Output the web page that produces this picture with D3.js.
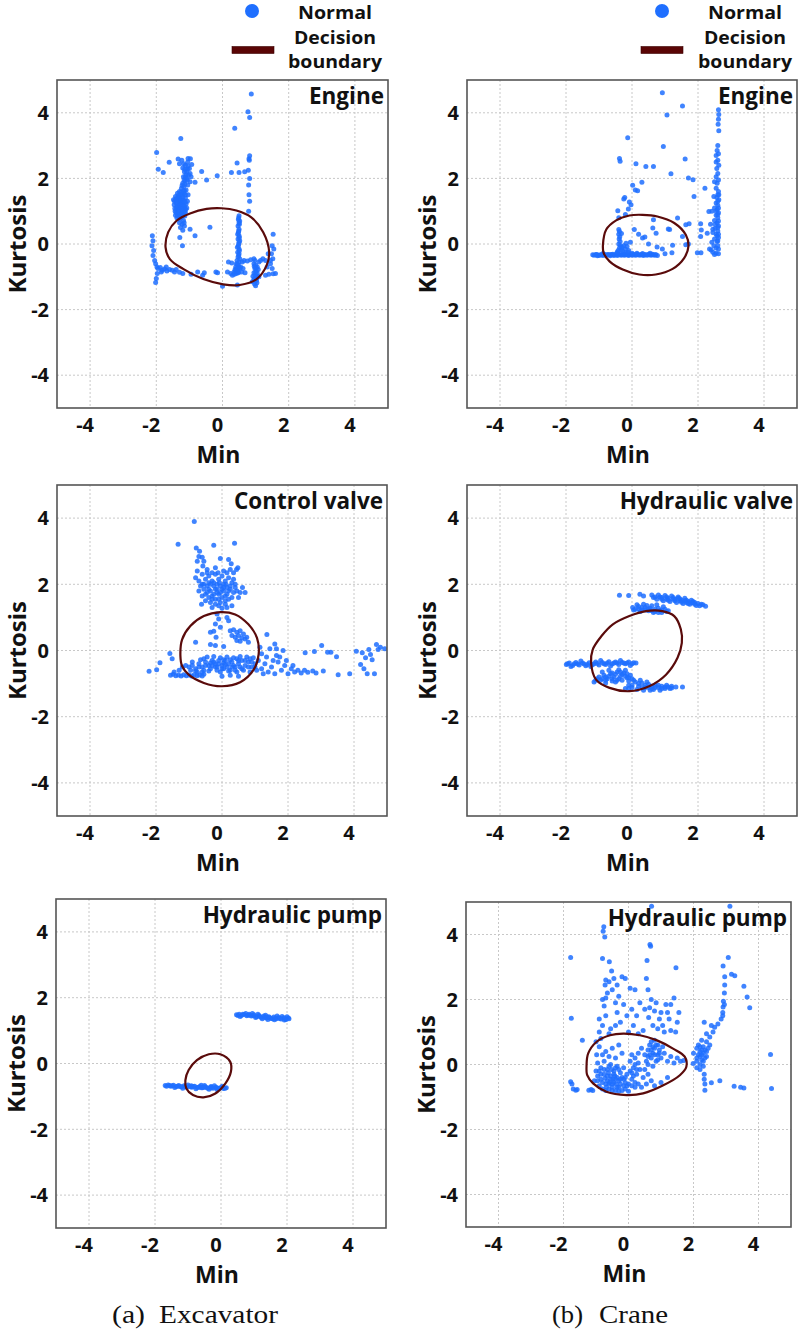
<!DOCTYPE html>
<html><head><meta charset="utf-8">
<script src="https://cdn.jsdelivr.net/npm/d3@7"></script>
<style>
html,body{margin:0;padding:0;background:#fff;}
svg{display:block;}
</style></head>
<body>
<svg id="chart" width="800" height="1331"></svg>
<script>
// ---------------- DATA ----------------
const tickValues = [-4, -2, 0, 2, 4];
const panelTitles = ["Engine", "Engine", "Control valve", "Hydraulic valve", "Hydraulic pump", "Hydraulic pump"];
const xLabel = "Min";
const yLabel = "Kurtosis";
const legendLabels = ["Normal", "Decision", "boundary"];
const captions = [["(a)", "Excavator"], ["(b)", "Crane"]];

// Excavator – Engine
const exEngine = [
[-1.42,1.45],[-1.35,1.38],[-1.28,1.42],[-1.2,1.35],[-1.12,1.4],[-1.4,1.25],[-1.32,1.2],[-1.25,1.28],[-1.18,1.18],[-1.1,1.22],[-1.44,1.08],[-1.36,1.05],[-1.29,1.1],[-1.22,1.02],[-1.14,1.08],[-1.4,0.95],[-1.33,0.9],[-1.26,0.95],[-1.19,0.88],[-1.12,0.95],[-1.38,1.15],[-1.3,1.32],[-1.22,1.5],[-1.16,1.55],[-1.3,1.6],[-1.24,1.7],[-1.17,1.75],[-1.1,1.65],[-1.05,1.8],[-1.2,1.85],[-1.13,1.92],[-1.08,2.0],[-1.18,2.05],[-1.1,2.12],[-1.02,2.1],[-1.15,2.2],[-1.06,2.28],[-1.2,2.32],[-1.12,2.4],[-1.0,2.3],[-0.95,2.05],[-0.98,1.9],[-1.25,0.8],[-1.18,0.72],[-1.3,0.75],[-1.22,0.6],[-1.15,0.55],[-1.27,0.5],[-1.2,0.42],[-1.3,0.65],[-1.38,0.8],[-1.46,1.2],[-1.48,1.35],[-1.34,1.48],[-1.06,1.3],[-1.04,1.5],[-1.08,1.1],[-1.16,0.65],[-1.23,2.55],[-1.3,2.45],[-1.05,2.5],[-0.97,2.6],[-1.15,1.62],[-1.25,1.58],[-1.35,1.0],[-1.15,0.98],
[-1.45,1.3],[-1.41,1.38],[-1.37,1.3],[-1.33,1.42],[-1.29,1.25],[-1.25,1.35],[-1.21,1.25],[-1.17,1.32],[-1.13,1.28],[-1.43,1.0],[-1.39,1.1],[-1.35,1.15],[-1.31,1.02],[-1.27,1.18],[-1.23,1.12],[-1.19,1.08],[-1.15,1.15],[-1.11,1.05],[-1.42,0.88],[-1.36,0.85],[-1.28,0.85],[-1.2,0.95],[-1.14,0.85],[-1.24,0.9],[-1.36,1.55],[-1.28,1.5],[-1.2,1.45],[-1.12,1.5],[-1.18,1.62],[-1.22,1.78],[-1.14,1.82],[-1.16,1.95],[-1.12,2.05],[-1.06,1.95],[-1.08,2.2],[-1.14,2.28],[-1.04,2.38],[-1.17,2.45],
[-1.99,2.79],[-1.94,2.28],[-1.79,2.18],[-1.61,2.49],[-1.34,2.59],[-1.04,2.61],[-0.93,2.42],[-0.83,1.88],[-0.98,2.15],[-1.26,3.22],[-1.29,0.2],[-1.21,-0.05],[-0.83,0.25],[-0.98,0.45],[-0.38,0.51],[-0.63,2.21],[-0.48,1.95],[-0.16,2.08],
[0.87,4.57],[0.77,4.03],[0.82,3.86],[0.37,3.53],[0.82,2.69],[0.8,2.6],[0.78,2.25],[0.82,2.0],[0.79,1.8],[0.8,1.5],[0.82,1.3],[0.79,1.0],[0.44,2.47],[0.27,2.18],[0.5,2.18],[0.67,2.2],[0.81,2.55],
[-2.12,0.25],[-2.1,0.1],[-2.13,-0.05],[-2.08,-0.2],[-2.1,-0.35],[-2.05,-0.5],[-2.02,-0.6],[-1.98,-0.7],[-2.0,-1.05],[-2.02,-1.17],[-1.97,-0.9],
[-1.95,-0.75],[-1.88,-0.72],[-1.82,-0.8],[-1.75,-0.76],[-1.68,-0.82],[-1.6,-0.78],[-1.52,-0.8],[-1.45,-0.85],[-1.4,-0.78],[-1.85,-0.85],[-1.7,-0.7],[-1.3,-0.86],[-1.2,-0.9],[-0.95,-0.92],[-0.75,-0.85],[-0.6,-0.95],[-0.55,-0.88],[-0.2,-0.85],[-0.15,-0.88],[0.15,-0.85],[0.25,-0.9],[0.0,-1.29],[0.45,-1.25],
[0.5,0.86],[0.48,0.75],[0.5,0.65],[0.47,0.55],[0.5,0.45],[0.48,0.35],[0.5,0.25],[0.47,0.15],[0.5,0.05],[0.48,-0.05],[0.5,-0.15],[0.46,-0.25],[0.5,-0.3],[0.47,-0.4],[0.52,-0.45],[0.44,-0.5],[0.5,-0.55],[0.42,-0.6],[0.48,-0.65],[0.4,-0.7],[0.55,-0.7],[0.38,-0.78],[0.45,-0.8],[0.52,-0.75],[0.35,-0.85],[0.42,-0.9],[0.3,-0.95],[0.48,-0.88],[0.52,0.7],[0.46,0.3],[0.52,0.1],[0.45,-0.1],[0.6,-0.55],[0.62,-0.75],[0.58,-0.85],[0.68,-0.88],[0.28,-0.58],[0.18,-0.55],
[0.49,0.8],[0.51,0.6],[0.49,0.4],[0.51,0.2],[0.49,0.0],[0.51,-0.2],[0.49,-0.35],[0.45,-0.62],[0.5,-0.72],[0.43,-0.75],[0.47,-0.85],[0.4,-0.82],[0.36,-0.92],
[0.95,-0.6],[1.0,-0.65],[1.05,-0.7],[0.98,-0.75],[1.02,-0.82],[0.95,-0.88],[1.05,-0.9],[0.98,-0.95],[1.02,-1.02],[0.95,-1.08],[1.0,-1.12],[1.04,-1.18],[0.97,-1.22],[1.0,-1.27],[0.92,-0.98],[1.08,-0.78],[1.1,-1.0],[0.9,-1.15],[0.98,-0.5],[1.1,-0.55],
[1.0,-0.85],[0.97,-1.05],[1.03,-1.1],[1.0,-0.72],[0.96,-0.68],[1.04,-0.98],
[0.65,-0.5],[0.75,-0.52],[0.85,-0.48],[0.95,-0.45],[1.15,-0.5],[1.22,-0.45],[1.3,-0.5],
[1.53,0.3],[1.5,-0.05],[1.55,-0.15],[1.48,-0.3],[1.52,-0.45],[1.45,-0.6],[1.5,-0.75],[1.53,-0.91],[1.4,-0.92],[1.3,-0.95],[1.38,-0.3],[1.6,-0.9],[1.45,-0.5],[1.35,-0.7]
];
const exEngineBoundary = [[-1.72,-0.10],[-1.64,0.36],[-1.39,0.71],[-0.98,0.93],[-0.48,1.07],[-0.03,1.09],[0.42,1.02],[0.87,0.81],[1.23,0.36],[1.41,-0.25],[1.33,-0.66],[1.03,-1.07],[0.52,-1.25],[0.02,-1.23],[-0.58,-1.07],[-1.19,-0.76],[-1.59,-0.46]];

// Crane – Engine
const crEngine = [
[0.92,4.61],[1.53,4.21],[1.06,3.93],[-0.13,3.24],[0.95,2.97],[-0.38,2.61],[-0.36,2.52],[0.12,2.45],[0.42,2.36],[0.65,2.36],[1.61,2.59],[1.18,2.14],[1.71,2.01],[1.85,1.96],[1.88,1.45],[0.3,1.88],[0.02,1.79],[0.1,1.65],[0.17,1.62],[-0.08,1.28],[-0.03,1.2],[-0.25,1.37],[-0.22,1.42],[-0.11,1.07],[-0.43,1.01],[-0.4,0.8],[0.65,0.74],[1.38,0.79],[1.63,0.59],[1.73,0.62],[0.07,0.44],[0.32,0.18],[0.39,0.21],[0.63,0.49],[0.73,0.33],[1.1,0.46],[1.14,0.44],[1.53,0.23],[1.23,-0.04],[0.92,-0.15],[0.76,-0.09],[1.21,-0.27],[1.0,-0.3],[1.63,-0.02],[1.71,0.0],[1.98,-0.27],[2.09,-0.27],[2.08,0.23],[2.1,0.43],[2.08,0.62],[2.21,1.7],[2.33,0.99],[2.28,0.33],[0.2,0.3],[-0.2,0.9],[0.5,0.0],
[2.62,4.09],[2.63,3.95],[2.62,3.8],[2.61,3.65],[2.63,3.45],[2.6,3.0],[2.58,2.85],[2.62,2.75],[2.55,2.7],[2.6,2.55],[2.63,2.4],[2.57,2.3],[2.6,2.15],[2.55,2.05],[2.62,1.95],[2.58,1.85],[2.55,1.7],[2.62,1.6],[2.6,1.5],[2.57,1.42],[2.63,1.35],[2.55,1.25],[2.6,1.18],[2.5,1.1],[2.58,1.05],[2.62,0.95],[2.55,0.88],[2.6,0.8],[2.5,0.72],[2.58,0.65],[2.62,0.55],[2.52,0.48],[2.6,0.4],[2.45,0.35],[2.55,0.3],[2.62,0.2],[2.5,0.15],[2.58,0.08],[2.42,0.05],[2.48,-0.05],[2.55,-0.12],[2.62,-0.15],[2.4,-0.18],[2.35,-0.15],[2.45,-0.25],[2.55,-0.28],[2.62,-0.3],[2.5,-0.32],[2.38,0.6],[2.42,1.0],[2.48,1.45],[2.45,0.45],[2.5,1.9],[2.55,2.5],
[2.6,1.3],[2.62,1.1],[2.6,0.9],[2.62,0.7],[2.6,0.5],[2.62,0.3],[2.6,0.1],[2.6,-0.05],[2.63,1.5],[2.55,1.0],[2.52,0.6],[2.58,0.25],
[-1.19,-0.33],[-1.1,-0.32],[-1.0,-0.35],[-0.92,-0.33],[-0.85,-0.31],[-0.78,-0.34],[-0.7,-0.33],[-0.62,-0.32],[-0.55,-0.35],[-0.48,-0.33],[-0.4,-0.31],[-0.32,-0.34],[-0.25,-0.33],[-0.18,-0.32],[-0.1,-0.35],[-0.02,-0.33],[0.05,-0.31],[0.12,-0.34],[0.2,-0.33],[0.28,-0.32],[0.35,-0.35],[0.42,-0.33],[0.5,-0.31],[0.58,-0.34],[0.65,-0.33],[0.72,-0.32],[0.77,-0.35],[-1.05,-0.36],[-0.88,-0.29],[-0.66,-0.36],[-0.45,-0.28],[-0.2,-0.27],[0.0,-0.28],[0.15,-0.28],[0.32,-0.29],[0.55,-0.28],
[-1.15,-0.34],[-1.06,-0.32],[-0.96,-0.33],[-0.88,-0.35],[-0.82,-0.33],[-0.74,-0.32],[-0.66,-0.33],[-0.58,-0.31],[-0.52,-0.33],[-0.44,-0.35],[-0.36,-0.33],[-0.28,-0.31],[-0.22,-0.34],[-0.14,-0.33],[-0.06,-0.32],[0.02,-0.34],[0.09,-0.33],[0.16,-0.31],[0.24,-0.34],[0.31,-0.33],[0.38,-0.32],[0.46,-0.34],[0.54,-0.33],[0.62,-0.31],[0.69,-0.34],
[-0.4,0.44],[-0.38,0.38],[-0.4,0.3],[-0.37,0.22],[-0.39,0.15],[-0.36,0.08],[-0.4,0.0],[-0.35,-0.05],[-0.38,-0.12],[-0.33,-0.18],[-0.3,-0.1],[-0.25,-0.05],[-0.2,-0.15],[-0.28,-0.22],[-0.15,-0.08],[-0.1,-0.2],[-0.42,-0.2],[-0.45,-0.25],[-0.05,0.05],[-0.18,0.02],[-0.32,0.32],[-0.12,-0.25]
];
const crEngineBoundary = [[-0.88,-0.02],[-0.78,0.44],[-0.48,0.72],[-0.08,0.87],[0.32,0.89],[0.77,0.84],[1.28,0.64],[1.63,0.28],[1.71,-0.07],[1.58,-0.43],[1.23,-0.76],[0.72,-0.93],[0.22,-0.93],[-0.28,-0.78],[-0.68,-0.53],[-0.86,-0.27]];

// Excavator – Control valve
const exValve = [
[-0.84,3.9],[-1.33,3.21],[-0.25,3.18],[0.38,3.24],[-0.78,3.1],[-0.68,3.0],[-0.7,2.84],[-0.6,2.82],[-0.55,2.7],[-0.75,2.7],[0.2,2.75],[0.28,2.62],[0.48,2.5],[0.44,2.45],[-0.05,2.78],[0.35,2.35],
[-0.8,2.2],[-0.7,2.1],[-0.6,2.3],[-0.5,2.15],[-0.4,2.25],[-0.3,2.1],[-0.2,2.3],[-0.1,2.15],[0.0,2.25],[0.1,2.1],[0.2,2.2],[0.3,2.05],[0.4,2.0],[-0.65,1.95],[-0.55,1.85],[-0.45,1.95],[-0.35,1.8],[-0.25,1.95],[-0.15,1.85],[-0.05,1.95],[0.05,1.8],[0.15,1.9],[0.25,1.85],[0.35,1.75],[0.45,1.8],[0.55,1.75],[-0.6,1.65],[-0.5,1.7],[-0.4,1.6],[-0.3,1.65],[-0.2,1.55],[-0.1,1.7],[0.0,1.6],[0.1,1.65],[0.2,1.55],[0.3,1.6],[-0.5,1.5],[-0.35,1.45],[-0.2,1.4],[-0.05,1.45],[0.1,1.4],[-0.25,2.05],[-0.08,2.05],[0.05,2.0],[-0.4,2.05],[-0.15,1.75],[-0.3,1.3],[0.0,1.28],[0.15,1.3],[-0.7,1.8],[-0.75,2.4],[-0.45,2.45],[-0.2,2.5],[0.05,2.4],[0.15,2.35],[0.62,1.9],[0.7,1.75],[0.5,1.6],[-0.62,1.4],[0.3,1.35],[-0.12,2.35],[0.25,2.45],[-0.58,2.55],
[-0.55,2.0],[-0.45,1.75],[-0.35,2.0],[-0.25,1.7],[-0.15,2.0],[-0.05,1.75],[0.05,1.9],[0.15,1.7],[0.25,1.95],[-0.4,1.85],[-0.2,1.85],[0.0,1.85],[0.2,1.8],[-0.3,1.55],[-0.1,1.55],[0.1,1.5],[-0.6,2.0],[0.4,1.9],[0.35,2.15],[-0.45,2.35],[-0.3,2.35],[0.12,2.0],[-0.1,1.35],
[-0.15,1.1],[-0.1,0.95],[-0.2,0.8],[-0.05,0.7],[-0.35,0.55],[-0.25,0.58],[-0.18,0.4],[-0.8,0.25],[-0.35,0.18],[-0.2,0.15],[0.05,0.12],[0.15,1.0],[0.2,0.9],
[0.25,0.6],[0.35,0.63],[0.45,0.55],[0.55,0.6],[0.3,0.45],[0.4,0.4],[0.5,0.45],[0.6,0.38],[0.7,0.35],[0.45,0.3],[0.55,0.28],[0.65,0.5],[0.75,0.4],[0.8,0.25],
[-1.0,-0.5],[-0.9,-0.45],[-0.8,-0.55],[-0.7,-0.4],[-0.6,-0.5],[-0.5,-0.35],[-0.4,-0.45],[-0.3,-0.3],[-0.2,-0.4],[-0.1,-0.3],[0.0,-0.45],[0.1,-0.3],[0.2,-0.4],[0.3,-0.35],[0.4,-0.5],[0.5,-0.4],[0.6,-0.3],[0.7,-0.45],[0.8,-0.35],[0.9,-0.5],[1.0,-0.4],[1.1,-0.3],
[-0.95,-0.6],[-0.75,-0.65],[-0.55,-0.6],[-0.35,-0.55],[-0.15,-0.6],[0.05,-0.55],[0.25,-0.6],[0.45,-0.65],[0.65,-0.6],[0.85,-0.65],[1.05,-0.6],
[-0.45,-0.2],[-0.25,-0.18],[-0.05,-0.22],[0.15,-0.2],[0.35,-0.22],[0.55,-0.18],[0.75,-0.2],[0.95,-0.22],
[-0.65,-0.28],[-0.15,-0.5],[0.35,-0.45],[0.15,-0.5],[-0.35,-0.38],[0.05,-0.38],[0.55,-0.5],[-0.05,-0.65],[0.25,-0.75],[0.5,-0.78],[0.0,-0.78],
[-0.9,-0.35],[-0.7,-0.5],[-0.5,-0.45],[-0.3,-0.45],[-0.1,-0.4],[0.1,-0.42],[0.3,-0.5],[0.5,-0.3],[0.7,-0.3],[0.9,-0.35],[-0.8,-0.62],[-0.6,-0.65],[-0.4,-0.62],[-0.2,-0.5],[0.0,-0.55],[0.2,-0.62],[0.4,-0.6],[0.6,-0.55],[0.8,-0.5],[1.0,-0.5],[-0.25,-0.35],[0.25,-0.28],[0.05,-0.28],[-0.55,-0.25],[0.45,-0.25],[0.85,-0.25],
[-1.56,-0.75],[-1.48,-0.72],[-1.4,-0.76],[-1.32,-0.74],[-1.24,-0.77],[-1.16,-0.73],[-1.08,-0.76],[-1.0,-0.74],[-0.92,-0.77],[-0.84,-0.73],[-0.76,-0.76],[-0.68,-0.74],[-0.6,-0.77],[-0.55,-0.72],[-1.45,-0.65],[-1.3,-0.6],[-1.2,-0.5],[-1.1,-0.45],
[1.2,-0.55],[1.3,-0.4],[1.4,-0.65],[1.5,-0.5],[1.6,-0.7],[1.7,-0.35],[1.8,-0.6],[1.9,-0.45],[2.0,-0.7],[2.1,-0.55],[2.2,-0.65],[2.3,-0.6],[2.4,-0.68],[2.5,-0.6],[2.6,-0.66],[2.75,-0.62],[2.85,-0.68],[1.25,-0.7],[1.55,-0.3],[1.65,-0.15],[1.75,-0.2],[1.85,0.0],[1.45,0.05],[1.36,0.48],[1.6,0.2],[1.65,0.05],[1.2,-0.1],[1.35,-0.2],[1.95,-0.3],[2.15,-0.45],[1.15,0.1],
[2.52,-0.07],[2.8,-0.03],[3.02,0.15],[3.2,-0.05],[3.3,-0.05],[3.07,-0.62],[3.47,-0.19],[3.52,-0.73],[3.87,-0.7],[4.07,-0.02],[4.25,-0.07],[4.35,-0.22],[4.2,-0.42],[4.3,-0.55],[4.45,0.03],[4.5,-0.12],[4.68,0.18],[4.73,0.03],[4.93,0.05],[4.4,-0.7],[4.62,-0.7],[4.55,-0.28],[4.8,0.1],
[-2.21,-0.63],[-1.98,-0.58],[-1.88,-0.37],[-1.58,-0.09],[-1.51,-0.25]
];
const exValveBoundary = [[-1.26,-0.17],[-1.21,0.33],[-0.96,0.74],[-0.55,1.04],[-0.05,1.16],[0.40,1.09],[0.80,0.79],[1.06,0.38],[1.11,-0.12],[0.96,-0.58],[0.55,-0.96],[0.00,-1.08],[-0.55,-0.98],[-1.01,-0.73],[-1.21,-0.47]];

// Crane – Hydraulic valve
const crValve = [
[-0.38,1.67],[-0.1,1.66],[0.24,1.7],[0.35,1.65],
[0.6,1.68],[0.7,1.62],[0.8,1.68],[0.9,1.6],[1.0,1.66],[1.1,1.58],[1.2,1.65],[1.3,1.55],[1.4,1.62],[1.5,1.52],[1.6,1.58],[1.7,1.48],[1.8,1.52],[1.9,1.45],[2.0,1.42],[2.1,1.4],[2.23,1.34],[0.75,1.55],[0.95,1.5],[1.15,1.48],[1.35,1.45],[1.55,1.42],[1.75,1.4],[1.95,1.36],[1.25,1.6],[1.45,1.56],[1.65,1.52],[1.85,1.44],[1.05,1.55],[2.05,1.35],
[0.65,1.6],[0.85,1.62],[1.05,1.62],[1.25,1.55],[1.45,1.5],[1.65,1.45],[1.85,1.48],[2.15,1.38],[0.9,1.55],[1.1,1.52],[1.3,1.5],[1.5,1.46],[1.7,1.42],[1.9,1.4],[1.4,1.58],[1.6,1.5],[1.8,1.45],
[0.02,1.3],[0.1,1.25],[0.2,1.33],[0.3,1.22],[0.4,1.3],[0.5,1.2],[0.6,1.35],[0.7,1.18],[0.8,1.28],[0.9,1.15],[1.0,1.25],[1.1,1.2],[0.15,1.38],[0.35,1.4],[0.55,1.28],[0.75,1.38],[0.95,1.32],[0.65,1.15],[0.85,1.2],[0.45,1.36],[0.25,1.18],
[0.05,1.22],[0.3,1.3],[0.5,1.25],[0.7,1.25],[0.9,1.22],[1.05,1.18],[0.6,1.2],[0.8,1.15],[0.4,1.22],[0.2,1.25],
[-1.99,-0.42],[-1.9,-0.38],[-1.8,-0.45],[-1.7,-0.36],[-1.6,-0.44],[-1.5,-0.38],[-1.4,-0.46],[-1.3,-0.37],[-1.2,-0.43],[-1.1,-0.35],[-1.0,-0.44],[-0.9,-0.36],[-0.8,-0.42],[-0.7,-0.34],[-0.6,-0.41],[-0.5,-0.35],[-0.4,-0.42],[-0.3,-0.36],[-0.2,-0.4],[-0.1,-0.35],[0.0,-0.4],[0.12,-0.38],[-1.85,-0.48],[-1.55,-0.32],[-1.25,-0.48],[-0.95,-0.3],[-0.65,-0.47],[-0.35,-0.3],[-0.05,-0.45],
[-1.95,-0.4],[-1.75,-0.4],[-1.65,-0.41],[-1.45,-0.41],[-1.35,-0.42],[-1.15,-0.4],[-1.05,-0.39],[-0.85,-0.4],[-0.75,-0.38],[-0.55,-0.38],[-0.45,-0.38],[-0.25,-0.38],[-0.15,-0.38],[0.05,-0.37],
[-1.15,-0.95],[-1.05,-0.85],[-0.95,-0.9],[-0.85,-0.75],[-0.75,-0.85],[-0.65,-0.7],[-0.55,-0.8],[-0.45,-0.65],[-0.35,-0.78],[-0.25,-0.68],[-0.15,-0.82],[-0.05,-0.75],[-0.9,-0.65],[-0.7,-0.6],[-0.5,-0.95],[-0.3,-0.9],[-0.1,-0.92],[-0.6,-0.92],[-0.8,-0.98],[-0.4,-0.58],[-0.2,-0.6],[0.0,-0.85],
[-1.1,-0.9],[-1.0,-0.8],[-0.9,-0.85],[-0.8,-0.8],[-0.7,-0.78],[-0.6,-0.85],[-0.5,-0.72],[-0.4,-0.85],[-0.3,-0.72],[-0.2,-0.78],[-0.1,-0.82],[-0.6,-0.68],[-0.35,-0.65],[-0.8,-0.9],[-0.45,-0.9],[-0.15,-0.7],
[-0.2,-1.15],[-0.1,-1.05],[0.0,-1.12],[0.1,-0.95],[0.2,-1.08],[0.3,-0.98],[0.4,-1.12],[0.5,-1.02],[0.6,-1.15],[0.7,-1.05],[0.8,-1.12],[0.9,-1.08],[1.0,-1.15],[1.1,-1.1],[1.2,-1.13],[1.33,-1.1],[1.53,-1.1],[0.25,-0.9],[0.45,-0.95],[0.65,-1.18],[0.85,-1.2],[0.15,-1.18],[0.05,-0.9],[0.35,-1.2],[1.05,-1.05],[0.55,-1.2],
[0.0,-1.05],[0.2,-1.0],[0.4,-1.05],[0.6,-1.08],[0.8,-1.05],[1.0,-1.1],[1.2,-1.08],[0.3,-1.12],[0.5,-1.12],[0.7,-1.12],[0.9,-1.15],[1.15,-1.15],[-0.1,-1.15]
];
const crValveBoundary = [[-1.24,-0.37],[-1.19,0.03],[-0.93,0.43],[-0.58,0.79],[-0.08,1.04],[0.42,1.19],[0.92,1.19],[1.28,1.04],[1.48,0.64],[1.51,0.23],[1.38,-0.22],[1.03,-0.73],[0.52,-1.08],[-0.08,-1.23],[-0.68,-1.13],[-1.09,-0.88]];

// Excavator – Hydraulic pump
const exPump = [
[0.47,1.48],[0.55,1.5],[0.62,1.46],[0.7,1.49],[0.78,1.45],[0.85,1.5],[0.92,1.44],[1.0,1.48],[1.08,1.42],[1.15,1.46],[1.22,1.4],[1.3,1.44],[1.38,1.38],[1.45,1.42],[1.52,1.37],[1.6,1.41],[1.68,1.36],[1.75,1.4],[1.82,1.35],[1.9,1.39],[1.97,1.34],[2.04,1.38],[0.58,1.43],[0.75,1.52],[0.95,1.52],[1.12,1.5],[1.25,1.36],[1.42,1.34],[1.62,1.33],[1.85,1.43],[2.0,1.42],[1.05,1.4],[1.35,1.47],[1.7,1.44],[1.92,1.32],
[0.51,1.46],[0.66,1.5],[0.82,1.47],[0.98,1.45],[1.18,1.43],[1.32,1.4],[1.48,1.39],[1.65,1.38],[1.78,1.37],[1.95,1.36],[2.06,1.36],[0.88,1.47],[1.4,1.41],[1.56,1.36],
[-1.69,-0.67],[-1.6,-0.65],[-1.52,-0.69],[-1.44,-0.66],[-1.36,-0.7],[-1.28,-0.67],[-1.2,-0.71],[-1.12,-0.68],[-1.04,-0.72],[-0.96,-0.69],[-0.88,-0.72],[-0.8,-0.69],[-0.72,-0.73],[-0.64,-0.7],[-0.56,-0.74],[-0.48,-0.71],[-0.4,-0.75],[-0.32,-0.72],[-0.24,-0.75],[-0.16,-0.72],[-0.08,-0.76],[0.0,-0.73],[0.08,-0.76],[0.16,-0.74],[-1.4,-0.73],[-1.0,-0.65],[-0.6,-0.66],[-0.2,-0.68],[-0.76,-0.77],[-0.36,-0.78],[0.04,-0.69],[-1.16,-0.75],[-0.5,-0.67],[-0.12,-0.79],
[-1.65,-0.69],[-1.56,-0.67],[-1.48,-0.68],[-1.32,-0.69],[-1.24,-0.7],[-1.08,-0.7],[-0.92,-0.71],[-0.84,-0.7],[-0.68,-0.72],[-0.52,-0.72],[-0.44,-0.73],[-0.28,-0.74],[-0.12,-0.74],[-0.04,-0.75],[0.12,-0.75],[-0.6,-0.74],[-0.3,-0.7],[-0.9,-0.68]
];
const exPumpBoundary = [[-1.08,-0.51],[-0.98,-0.2],[-0.73,0.1],[-0.37,0.28],[-0.02,0.28],[0.28,0.05],[0.30,-0.25],[0.13,-0.61],[-0.17,-0.91],[-0.53,-1.03],[-0.85,-0.96],[-1.05,-0.76]];

// Crane – Hydraulic pump
const crPump = [
[0.71,4.87],[3.12,4.87],[-0.76,4.24],[-0.78,4.1],[-0.73,3.92],[0.66,3.69],[0.68,3.64],[-1.78,3.29],[-0.8,3.26],[-0.59,3.16],[0.57,3.2],[1.46,2.98],[-0.52,2.88],[3.07,3.29],[2.91,3.03],[3.17,2.78],[3.27,2.73],[3.55,2.41],[3.65,2.08],[3.73,1.75],[-1.76,1.42],[-1.42,0.75],[4.37,0.31],[4.4,-0.74],[3.25,-0.67],[3.45,-0.7],[3.55,-0.72],[2.81,-0.5],[2.55,-0.56],[-1.78,-0.53],[-1.74,-0.6],[-1.7,-0.75],[-1.62,-0.79],[-1.58,-0.77],[-1.22,-0.79],[-1.15,-0.77],[-1.1,-0.8],
[1.99,0.03],[2.1,0.2],[2.2,0.4],[2.3,0.55],[2.4,0.7],[2.5,0.85],[2.6,1.0],[2.65,1.15],[2.75,1.25],[2.85,1.4],[2.9,1.6],[2.91,1.77],[2.92,1.95],[2.95,2.2],[2.96,2.45],[2.96,2.7],[2.9,1.5],[2.2,0.0],[2.3,0.1],[2.25,0.3],[2.35,0.45],[2.15,0.6],[2.25,0.75],[2.4,0.25],[2.3,-0.05],[2.1,-0.1],[2.2,-0.15],[2.33,-0.3],[2.33,-0.45],[2.35,-0.6],[2.35,-0.79],[2.33,1.3],[2.45,0.5],[2.5,0.6],[2.0,0.35],[2.1,0.5],[2.25,0.15],[2.4,0.95],[2.55,1.2],[2.95,1.85],
[2.15,0.3],[2.3,0.35],[2.2,0.55],[2.35,0.2],[2.25,0.45],[2.4,0.4],[2.1,0.1],[2.2,0.25],
[-0.95,0.05],[-0.85,-0.1],[-0.75,0.1],[-0.65,-0.15],[-0.55,0.0],[-0.45,-0.2],[-0.35,-0.05],[-0.25,-0.25],[-0.15,-0.1],[-0.05,-0.3],
[-0.95,-0.35],[-0.85,-0.45],[-0.75,-0.3],[-0.65,-0.5],[-0.55,-0.35],[-0.45,-0.55],[-0.35,-0.4],[-0.25,-0.6],[-0.15,-0.45],[-0.05,-0.65],
[-0.9,-0.65],[-0.8,-0.75],[-0.7,-0.6],[-0.6,-0.75],[-0.5,-0.7],[-0.4,-0.8],[-0.3,-0.7],[-0.2,-0.8],[-0.1,-0.75],[0.0,-0.82],
[-0.62,-0.25],[-0.52,-0.15],[-0.42,-0.35],[-0.72,-0.42],[-0.58,-0.55],[-0.48,-0.45],[-0.38,-0.6],[-0.68,-0.7],[-0.3,-0.15],[-0.2,-0.4],[-0.8,0.3],[-0.7,0.4],[-0.6,0.25],[-0.5,0.5],[-0.9,0.55],[-0.4,0.2],[-1.0,0.7],[-0.85,0.8],[-0.3,0.6],[-0.2,0.35],[-1.05,-0.5],[-1.0,-0.2],[-0.98,0.3],
[-0.9,-0.2],[-0.8,-0.55],[-0.6,-0.05],[-0.5,-0.6],[-0.4,-0.1],[-0.3,-0.5],[-0.1,-0.55],[0.0,-0.6],[-0.65,-0.35],[-0.55,-0.45],[-0.45,-0.3],[-0.35,-0.7],[-0.25,-0.45],[-0.15,-0.65],[-0.75,-0.15],[-0.85,-0.3],[-0.7,-0.8],[-0.5,-0.8],[-0.3,-0.82],[-0.1,-0.4],[-0.95,-0.5],[-0.6,-0.6],[-0.4,-0.45],[0.1,-0.65],[0.15,-0.35],[0.2,-0.7],
[0.05,-0.2],[0.15,-0.1],[0.25,-0.3],[0.35,-0.15],[0.45,-0.4],[0.1,-0.45],[0.2,-0.55],[0.3,-0.6],[0.4,-0.7],[0.55,-0.6],[0.05,0.1],[0.2,0.2],[0.3,0.05],[0.1,0.3],[0.6,-0.3],[0.7,-0.5],[0.8,-0.65],[1.0,-0.55],[1.2,-0.4],[0.5,-0.15],
[0.5,0.3],[0.6,0.45],[0.7,0.2],[0.8,0.5],[0.9,0.3],[0.65,0.6],[0.75,0.35],[0.85,0.1],[0.95,0.45],[0.55,0.1],[0.7,0.7],[0.8,0.75],[0.9,0.6],[1.0,0.2],[1.1,0.35],[1.2,0.1],[1.3,0.25],[1.4,0.05],[1.5,0.2],[1.6,0.1],[1.7,0.12],[0.6,0.0],[0.75,-0.05],[1.05,0.55],[0.4,0.5],[0.3,0.35],
[0.7,0.45],[0.8,0.3],[0.85,0.6],[0.65,0.3],[0.75,0.55],[0.9,0.15],[0.6,0.25],[0.95,0.35],[0.2,0.0],[0.25,-0.15],[0.1,-0.25],
[-0.9,1.0],[-0.8,1.2],[-0.7,1.5],[-0.75,1.8],[-0.8,2.0],[-0.7,2.05],[-0.65,2.2],[-0.6,2.55],[-0.7,2.6],[-0.5,2.3],[-0.45,2.65],[-0.4,1.9],[-0.35,1.6],[-0.3,2.1],[-0.25,1.3],[-0.2,2.7],[-0.1,2.65],[-0.15,1.85],[-0.05,1.5],[0.05,2.35],[0.1,1.7],[0.15,1.2],[0.2,2.3],[0.25,1.5],[0.35,1.9],[0.45,1.05],[0.5,1.7],[0.55,2.65],[0.6,2.3],[0.62,1.45],[0.7,2.0],[0.75,1.2],[0.8,1.65],[0.85,1.9],[0.9,1.1],[0.95,1.4],[1.0,1.6],[1.05,1.2],[1.15,1.85],[1.2,1.6],[1.25,1.4],[1.3,1.05],[1.3,1.85],[1.4,2.05],[1.5,1.3],[1.55,1.6],[-0.55,1.1],[-0.6,0.95],[-0.9,1.4],[0.0,1.0],[0.3,0.95],[-0.4,1.2],[0.65,1.75],[1.1,1.0],[1.45,1.0],[-0.72,2.45],[-0.35,2.45]
];
const crPumpBoundary = [[-1.29,-0.02],[-1.24,0.34],[-0.98,0.70],[-0.57,0.90],[-0.16,0.95],[0.35,0.90],[0.86,0.75],[1.37,0.49],[1.73,0.24],[1.78,-0.07],[1.58,-0.33],[1.07,-0.64],[0.45,-0.89],[-0.06,-0.94],[-0.68,-0.84],[-1.09,-0.58],[-1.27,-0.33]];

// ---------------- LAYOUT ----------------
const panelBoxes = [
  {x:57,  y:80,  w:331, h:328},
  {x:467, y:80,  w:330, h:328},
  {x:57,  y:485, w:330, h:331},
  {x:467, y:485, w:330, h:331},
  {x:56,  y:899, w:330, h:329},
  {x:466, y:902, w:325, h:325}
];
const panelPoints = [exEngine, crEngine, exValve, crValve, exPump, crPump];
const panelBounds = [exEngineBoundary, crEngineBoundary, exValveBoundary, crValveBoundary, exPumpBoundary, crPumpBoundary];

const FONT = "'Open Sans','Noto Sans','DejaVu Sans',sans-serif";
const PT_COLOR = "#1f6fff";
const BND_COLOR = "#5a0b0b";

const svg = d3.select("#chart");

panelBoxes.forEach((b, i) => {
  const x = d3.scaleLinear().domain([-5, 5]).range([b.x, b.x + b.w]);
  const y = d3.scaleLinear().domain([-5, 5]).range([b.y + b.h, b.y]);
  const g = svg.append("g");

  // grid
  g.selectAll(".gx").data(tickValues).join("line")
    .attr("x1", d => x(d)).attr("x2", d => x(d))
    .attr("y1", b.y).attr("y2", b.y + b.h)
    .attr("stroke", "#c8c8c8").attr("stroke-width", 1).attr("stroke-dasharray", "2,2");
  g.selectAll(".gy").data(tickValues).join("line")
    .attr("y1", d => y(d)).attr("y2", d => y(d))
    .attr("x1", b.x).attr("x2", b.x + b.w)
    .attr("stroke", "#c8c8c8").attr("stroke-width", 1).attr("stroke-dasharray", "2,2");

  // points
  const clipId = "clip" + i;
  svg.append("clipPath").attr("id", clipId).append("rect")
    .attr("x", b.x).attr("y", b.y).attr("width", b.w).attr("height", b.h);
  g.append("g").attr("clip-path", `url(#${clipId})`)
    .selectAll("circle").data(panelPoints[i]).join("circle")
    .attr("cx", d => x(d[0])).attr("cy", d => y(d[1]))
    .attr("r", 2.5).attr("fill", PT_COLOR).attr("fill-opacity", 0.85);

  // decision boundary
  const line = d3.line().x(d => x(d[0])).y(d => y(d[1])).curve(d3.curveCatmullRomClosed.alpha(0.5));
  g.append("path").attr("d", line(panelBounds[i]))
    .attr("fill", "none").attr("stroke", BND_COLOR).attr("stroke-width", 2.2);

  // frame
  g.append("rect").attr("x", b.x).attr("y", b.y).attr("width", b.w).attr("height", b.h)
    .attr("fill", "none").attr("stroke", "#555").attr("stroke-width", 1.6);

  // tick labels
  g.selectAll(".tx").data(tickValues).join("text")
    .attr("x", d => x(d) - 5).attr("y", b.y + b.h + 24)
    .attr("text-anchor", "middle")
    .style("font-family", FONT).style("font-weight", "bold").style("font-size", "20px").attr("fill", "#111")
    .text(d => d);
  g.selectAll(".ty").data(tickValues).join("text")
    .attr("x", b.x - 8).attr("y", d => y(d)).attr("dy", "0.36em")
    .attr("text-anchor", "end")
    .style("font-family", FONT).style("font-weight", "bold").style("font-size", "20px").attr("fill", "#111")
    .text(d => d);

  // axis titles
  g.append("text").attr("x", b.x + b.w / 2 - 4).attr("y", b.y + b.h + 55)
    .attr("text-anchor", "middle")
    .style("font-family", FONT).style("font-weight", "bold").style("font-size", "23px").attr("fill", "#111")
    .text(xLabel);
  g.append("text").attr("transform", `translate(${b.x - 31},${b.y + b.h / 2}) rotate(-90)`)
    .attr("text-anchor", "middle")
    .style("font-family", FONT).style("font-weight", "bold").style("font-size", "24px").attr("fill", "#111")
    .text(yLabel);

  // panel title
  g.append("text").attr("x", b.x + b.w - 4).attr("y", b.y + 24)
    .attr("text-anchor", "end")
    .style("font-family", FONT).style("font-weight", "bold").style("font-size", "22.5px").attr("fill", "#111")
    .text(panelTitles[i]);
});

// legends
const legendWidths = [74, 82, 94];
const legendBaselines = [19, 44, 67.5];
[{dot:252, bar:232, txt:335}, {dot:662, bar:641, txt:745}].forEach(L => {
  svg.append("circle").attr("cx", L.dot).attr("cy", 11).attr("r", 7).attr("fill", PT_COLOR);
  svg.append("rect").attr("x", L.bar).attr("y", 46.5).attr("width", 42).attr("height", 7)
    .attr("fill", "#5a0505").attr("stroke", "#3a0000").attr("stroke-width", 0.6);
  legendLabels.forEach((s, k) => {
    svg.append("text").attr("x", L.txt - legendWidths[k] / 2).attr("y", legendBaselines[k])
      .attr("textLength", legendWidths[k]).attr("lengthAdjust", "spacingAndGlyphs")
      .style("font-family", FONT).style("font-weight", "bold").style("font-size", "17px").attr("fill", "#111").text(s);
  });
});

// captions
[{x1:112, w1:33, x2:159, w2:119}, {x1:552, w1:31, x2:599, w2:69}].forEach((c, i) => {
  svg.append("text").attr("x", c.x1).attr("y", 1323)
    .attr("textLength", c.w1).attr("lengthAdjust", "spacingAndGlyphs")
    .style("font-family", "'Liberation Serif','Times New Roman',serif").style("font-size", "25px").attr("fill", "#111")
    .text(captions[i][0]);
  svg.append("text").attr("x", c.x2).attr("y", 1323)
    .attr("textLength", c.w2).attr("lengthAdjust", "spacingAndGlyphs")
    .style("font-family", "'Liberation Serif','Times New Roman',serif").style("font-size", "25px").attr("fill", "#111")
    .text(captions[i][1]);
});
</script>
</body></html>
